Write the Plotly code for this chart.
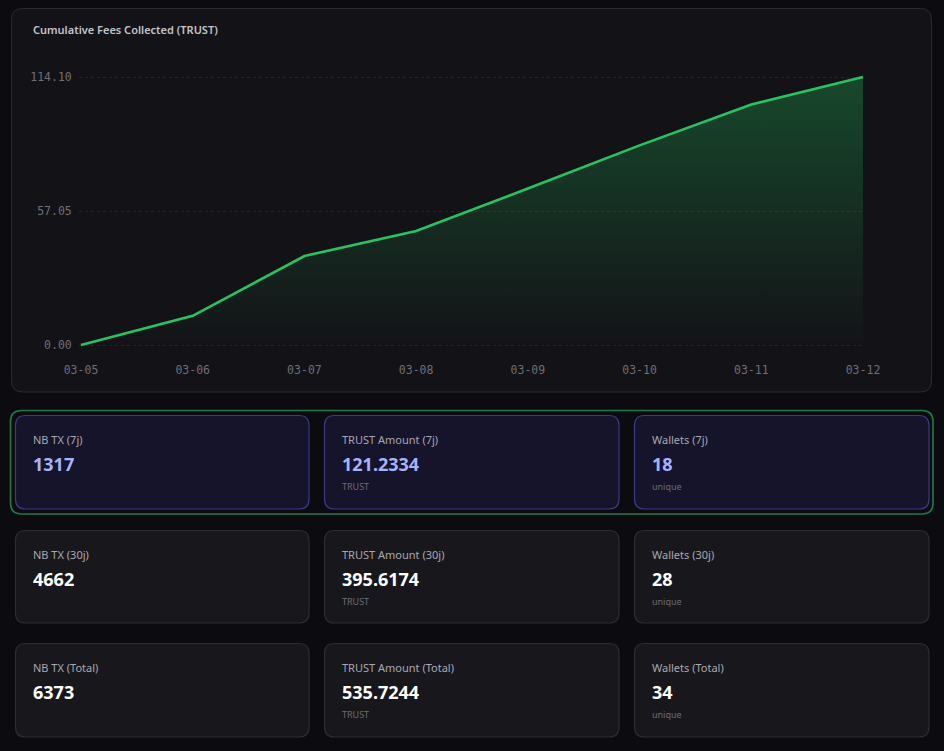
import plotly.graph_objects as go

# data
days = ["03-05", "03-06", "03-07", "03-08", "03-09", "03-10", "03-11", "03-12"]
cumulative_fees = [0.0, 12.4, 37.9, 48.5, 66.6, 85.0, 102.4, 114.10]
y_ticks = [0.0, 57.05, 114.10]

card_labels = [
    ["NB TX (7j)", "TRUST Amount (7j)", "Wallets (7j)"],
    ["NB TX (30j)", "TRUST Amount (30j)", "Wallets (30j)"],
    ["NB TX (Total)", "TRUST Amount (Total)", "Wallets (Total)"],
]
card_values = [
    ["1317", "121.2334", "18"],
    ["4662", "395.6174", "28"],
    ["6373", "535.7244", "34"],
]
card_subs = ["", "TRUST", "unique"]

# page geometry (pixels)
W, H = 944, 751
PAGE_BG = "#0c0c10"
PANEL_BG = "#131317"
PANEL_LINE = "#2a2a30"
GREEN = "#22c55e"

# plot area in pixels: 0 -> y=345, 114.10 -> y=77, 03-05 -> x=81, 03-12 -> x=863
# small padding so plotly keeps the edge gridlines
Y_PAD = 1.2
X_PAD = 0.02
px_per_unit = (345 - 77) / 114.10
px_per_day = (863 - 81) / 7


def px_x(x):
    return x / W


def px_y(y):
    return 1 - y / H


def rounded_path(x0, y0, x1, y1, r):
    # rounded rect in pixels -> svg path in paper coords
    pts = [
        ("M", x0 + r, y0),
        ("L", x1 - r, y0),
        ("Q", x1, y0, x1, y0 + r),
        ("L", x1, y1 - r),
        ("Q", x1, y1, x1 - r, y1),
        ("L", x0 + r, y1),
        ("Q", x0, y1, x0, y1 - r),
        ("L", x0, y0 + r),
        ("Q", x0, y0, x0 + r, y0),
    ]
    out = ""
    for p in pts:
        cmd = p[0]
        coords = p[1:]
        s = []
        for i in range(0, len(coords), 2):
            s.append(f"{px_x(coords[i]):.5f},{px_y(coords[i + 1]):.5f}")
        out += cmd + " ".join(s) + " "
    return out + "Z"


fig = go.Figure()

fig.add_trace(go.Scatter(
    x=days,
    y=cumulative_fees,
    mode="lines",
    line=dict(color=GREEN, width=2.6),
    fill="tozeroy",
    fillgradient=dict(
        type="vertical",
        colorscale=[[0, "rgba(34,197,94,0.0)"], [1, "rgba(34,197,94,0.30)"]],
    ),
    hoverinfo="x+y",
    showlegend=False,
))

shapes = []
# chart panel
shapes.append(dict(type="path", xref="paper", yref="paper", layer="below",
                   path=rounded_path(11.5, 8.5, 931.5, 392, 11),
                   fillcolor=PANEL_BG, line=dict(color=PANEL_LINE, width=1)))
# highlighted 7j row container
shapes.append(dict(type="path", xref="paper", yref="paper", layer="below",
                   path=rounded_path(10.5, 410.5, 933, 514, 11),
                   fillcolor=PAGE_BG, line=dict(color="#1f7a4a", width=1.6)))

col_x = [(15, 309), (324, 619), (634, 929)]
row_y = [(415, 509), (530, 623), (643, 737)]
annotations = [dict(
    text="Cumulative Fees Collected (TRUST)", x=px_x(31), y=px_y(29),
    xref="paper", yref="paper", xanchor="left", yanchor="middle", showarrow=False,
    font=dict(family="Noto Sans", size=11, color="#c4c4cc", weight=600),
)]
for r, (y0, y1) in enumerate(row_y):
    highlight = r == 0
    for c, (x0, x1) in enumerate(col_x):
        shapes.append(dict(
            type="path", xref="paper", yref="paper", layer="below",
            path=rounded_path(x0 + 0.5, y0 + 0.5, x1, y1, 10),
            fillcolor="#15142b" if highlight else "#18181c",
            line=dict(color="#3b3b86" if highlight else "#2c2c31", width=1.2),
        ))
        tx = x0 + 16
        annotations.append(dict(
            text=card_labels[r][c], x=px_x(tx), y=px_y(y0 + 24),
            xref="paper", yref="paper", xanchor="left", yanchor="middle", showarrow=False,
            font=dict(family="Noto Sans", size=11, color="#a8a8b2"),
        ))
        annotations.append(dict(
            text="<b>" + card_values[r][c] + "</b>", x=px_x(tx), y=px_y(y0 + 49),
            xref="paper", yref="paper", xanchor="left", yanchor="middle", showarrow=False,
            font=dict(family="Noto Sans", size=18, color="#a5b4fc" if highlight else "#ffffff"),
        ))
        if card_subs[c]:
            annotations.append(dict(
                text=card_subs[c], x=px_x(tx), y=px_y(y0 + 71),
                xref="paper", yref="paper", xanchor="left", yanchor="middle", showarrow=False,
                font=dict(family="Noto Sans", size=9, color="#6b6b75"),
            ))

fig.update_layout(
    width=W,
    height=H,
    margin=dict(l=0, r=0, t=0, b=0, pad=0),
    paper_bgcolor=PAGE_BG,
    plot_bgcolor="rgba(0,0,0,0)",
    shapes=shapes,
    annotations=annotations,
    xaxis=dict(
        domain=[px_x(81 - X_PAD * px_per_day), px_x(863 + X_PAD * px_per_day)],
        type="category",
        range=[-X_PAD, len(days) - 1 + X_PAD],
        automargin=False,
        showgrid=False,
        zeroline=False,
        showline=False,
        ticks="",
        ticklabelstandoff=14,
        tickfont=dict(family="DejaVu Sans Mono", size=11.5, color="#6e6e78"),
    ),
    yaxis=dict(
        domain=[px_y(345 + Y_PAD * px_per_unit), px_y(77 - Y_PAD * px_per_unit)],
        range=[-Y_PAD, 114.10 + Y_PAD],
        automargin=False,
        tickvals=y_ticks,
        ticktext=[f"{v:.2f}" for v in y_ticks],
        showgrid=True,
        gridcolor="#25252b",
        griddash="3px,3px",
        gridwidth=1,
        zeroline=False,
        showline=False,
        ticks="",
        ticklabelstandoff=6,
        tickfont=dict(family="DejaVu Sans Mono", size=11.5, color="#6e6e78"),
    ),
)

fig.write_html(
    "out.html",
    config={"displayModeBar": False},
    post_script="document.body.style.margin='0';document.body.style.background='#0c0c10';",
)
